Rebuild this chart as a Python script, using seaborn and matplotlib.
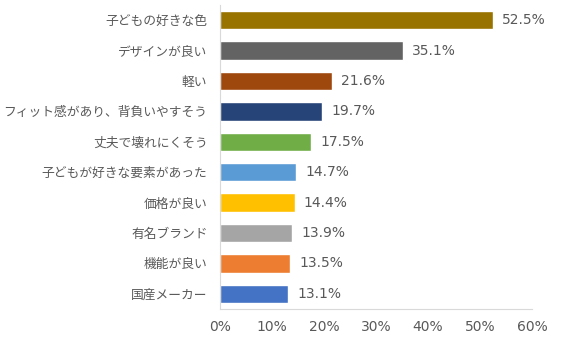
import matplotlib
matplotlib.use("Agg")
import matplotlib.pyplot as plt
import seaborn as sns
import pandas as pd

categories = ["子どもの好きな色", "デザインが良い", "軽い", "フィット感があり、背負いやすそう",
              "丈夫で壊れにくそう", "子どもが好きな要素があった", "価格が良い", "有名ブランド",
              "機能が良い", "国産メーカー"]
values = [52.5, 35.1, 21.6, 19.7, 17.5, 14.7, 14.4, 13.9, 13.5, 13.1]
colors = ["#997300", "#636363", "#9E480E", "#264478", "#70AD47",
          "#5B9BD5", "#FFC000", "#A5A5A5", "#ED7D31", "#4472C4"]
xticks = [0, 10, 20, 30, 40, 50, 60]

sns.set_style("white")
plt.rcParams['font.family'] = ['Noto Sans CJK JP', 'DejaVu Sans']

df = pd.DataFrame({"cat": categories, "val": values})

fig = plt.figure(figsize=(5.61, 3.44), dpi=100)
ax = fig.add_axes([220/561, 1-309/344, 312/561, 304/344])
sns.barplot(data=df, x="val", y="cat", hue="cat", palette=colors, orient="h",
            width=0.6, legend=False, ax=ax, saturation=1)
for c in ax.containers:
    ax.bar_label(c, labels=[f"{v:.1f}%" for v in c.datavalues], padding=6.5,
                 color="#595959", fontsize=10, family="DejaVu Sans")
ax.set_xlim(0, 60)
ax.set_ylim(9.5, -0.5)
ax.set_xticks(xticks)
ax.set_xticklabels([f"{t}%" for t in xticks], family="DejaVu Sans", fontsize=10)
ax.set_xlabel("")
ax.set_ylabel("")
ax.tick_params(axis='both', length=0, colors="#595959")
ax.tick_params(axis='y', labelsize=9.2, pad=9)
ax.tick_params(axis='x', pad=8)
for s in ["top", "right"]:
    ax.spines[s].set_visible(False)
for s in ["left", "bottom"]:
    ax.spines[s].set_color("#D9D9D9")
    ax.spines[s].set_linewidth(0.8)
fig.savefig("out.png", dpi=100)
